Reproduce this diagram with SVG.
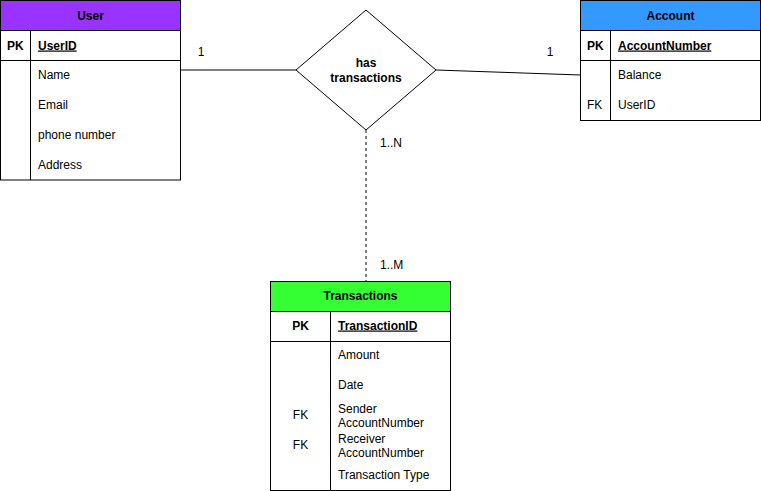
<svg xmlns="http://www.w3.org/2000/svg" width="761" height="491" viewBox="0 0 761 491">
<style>
text{font-family:"Liberation Sans",Arial,Helvetica,sans-serif;font-size:12px;fill:#000;}
.h{font-weight:bold;text-anchor:middle;}
.pk{font-weight:bold;}
.u{text-decoration:underline;}
.c{text-anchor:middle;}
.box{fill:#fff;stroke:#000;stroke-width:1;}
.ln{stroke:#000;stroke-width:1;fill:none;}
</style>
<rect width="761" height="491" fill="#fff"/>
<g id="connectors">
<line class="ln" x1="180.5" y1="70" x2="296" y2="70"/>
<line class="ln" x1="436" y1="70" x2="580.5" y2="75"/>
<line class="ln" x1="366" y1="130" x2="366" y2="281" stroke-dasharray="3 3"/>
<text x="201" y="56" class="c">1</text>
<text x="550" y="56" class="c">1</text>
<text x="380" y="147">1..N</text>
<text x="380" y="269">1..M</text>
</g>
<g id="user">
<rect class="box" x="0.5" y="0.5" width="180" height="179.5"/>
<rect x="0.5" y="0.5" width="180" height="30" fill="#9933ff" stroke="#000"/>
<line class="ln" x1="0.5" y1="60.5" x2="180.5" y2="60.5"/>
<line class="ln" x1="30.5" y1="30.5" x2="30.5" y2="180"/>
<text x="90.5" y="19.5" class="h">User</text>
<text x="7" y="49.5" class="pk">PK</text>
<text x="38" y="49.5" class="pk u">UserID</text>
<text x="38" y="78.5">Name</text>
<text x="38" y="108.5">Email</text>
<text x="38" y="138.5">phone number</text>
<text x="38" y="168.5">Address</text>
</g>
<g id="account">
<rect class="box" x="580.5" y="0.5" width="180" height="120"/>
<rect x="580.5" y="0.5" width="180" height="30" fill="#3399ff" stroke="#000"/>
<line class="ln" x1="580.5" y1="60.5" x2="760.5" y2="60.5"/>
<line class="ln" x1="610.5" y1="30.5" x2="610.5" y2="120.5"/>
<text x="670.5" y="19.5" class="h">Account</text>
<text x="587" y="49.5" class="pk">PK</text>
<text x="618" y="49.5" class="pk u">AccountNumber</text>
<text x="618" y="78.5">Balance</text>
<text x="587" y="108.5">FK</text>
<text x="618" y="108.5">UserID</text>
</g>
<g id="relationship">
<polygon class="box" points="366,10 436,70 366,130 296,70"/>
<text x="366" y="67" class="h">has</text>
<text x="366" y="81.5" class="h">transactions</text>
</g>
<g id="transactions">
<rect class="box" x="270.5" y="281.5" width="180" height="209"/>
<rect x="270.5" y="281.5" width="180" height="30" fill="#33ff33" stroke="#000"/>
<line class="ln" x1="270.5" y1="341.5" x2="450.5" y2="341.5"/>
<line class="ln" x1="330.5" y1="311.5" x2="330.5" y2="490.5"/>
<text x="360.5" y="299.5" class="h">Transactions</text>
<text x="300.5" y="329.5" class="h">PK</text>
<text x="338" y="329.5" class="pk u">TransactionID</text>
<text x="338" y="358.5">Amount</text>
<text x="338" y="388.5">Date</text>
<text x="300.5" y="418.5" class="c">FK</text>
<text x="338" y="413">Sender</text>
<text x="338" y="427">AccountNumber</text>
<text x="300.5" y="448.5" class="c">FK</text>
<text x="338" y="443">Receiver</text>
<text x="338" y="457">AccountNumber</text>
<text x="338" y="478.5">Transaction Type</text>
</g>
</svg>
